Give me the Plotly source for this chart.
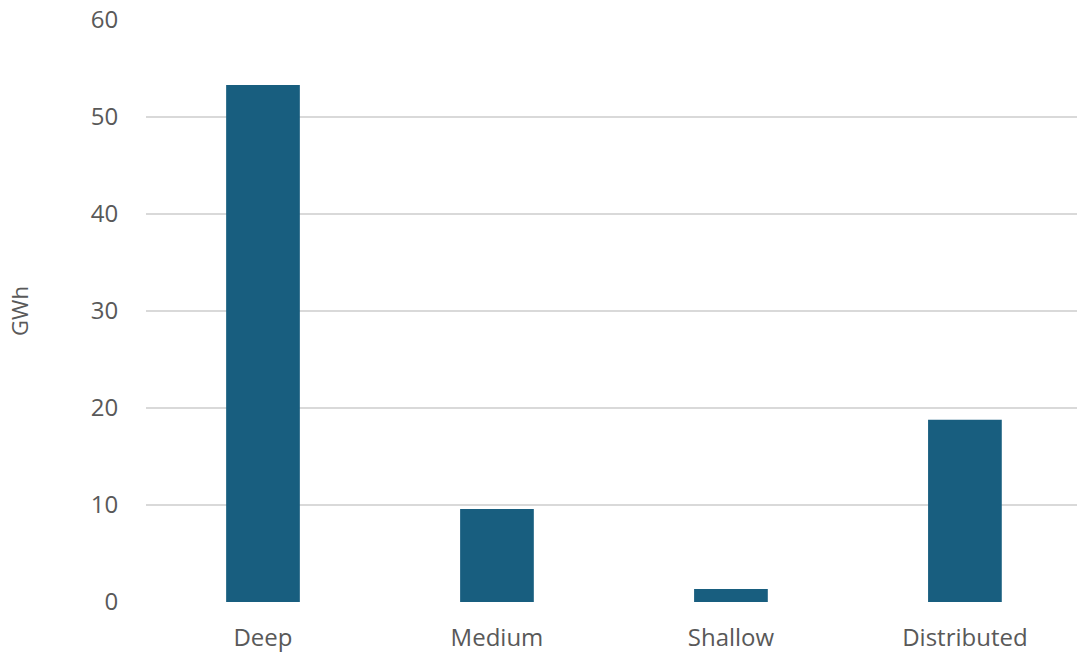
import plotly.graph_objects as go

categories = ["Deep", "Medium", "Shallow", "Distributed"]
values = [53.3, 9.6, 1.35, 18.8]
y_ticks = [0, 10, 20, 30, 40, 50, 60]

fig = go.Figure(go.Bar(
    x=categories, y=values,
    marker=dict(color="#185E7F", line=dict(width=0)),
    width=0.315,
))

fig.update_layout(
    width=1077, height=656,
    margin=dict(l=146, r=0, t=20, b=54),
    paper_bgcolor="white", plot_bgcolor="white",
    font=dict(family="Open Sans, sans-serif", size=24, color="#595959"),
    showlegend=False,
)
fig.update_xaxes(
    range=[-0.5, 3.479],
    showgrid=False, zeroline=False, showline=False,
    ticks="outside", ticklen=14, tickcolor="rgba(0,0,0,0)",
    tickfont=dict(size=24, color="#595959"),
)
fig.update_yaxes(
    range=[0, 60], tickvals=y_ticks,
    showgrid=True, gridcolor="#d9d9d9", gridwidth=2,
    zeroline=False, showline=False,
    ticks="outside", ticklen=22, tickcolor="rgba(0,0,0,0)",
    tickfont=dict(size=24, color="#595959"),
    title=dict(text="GWh", font=dict(size=22, color="#595959"), standoff=56),
)

fig.write_html("out.html")
